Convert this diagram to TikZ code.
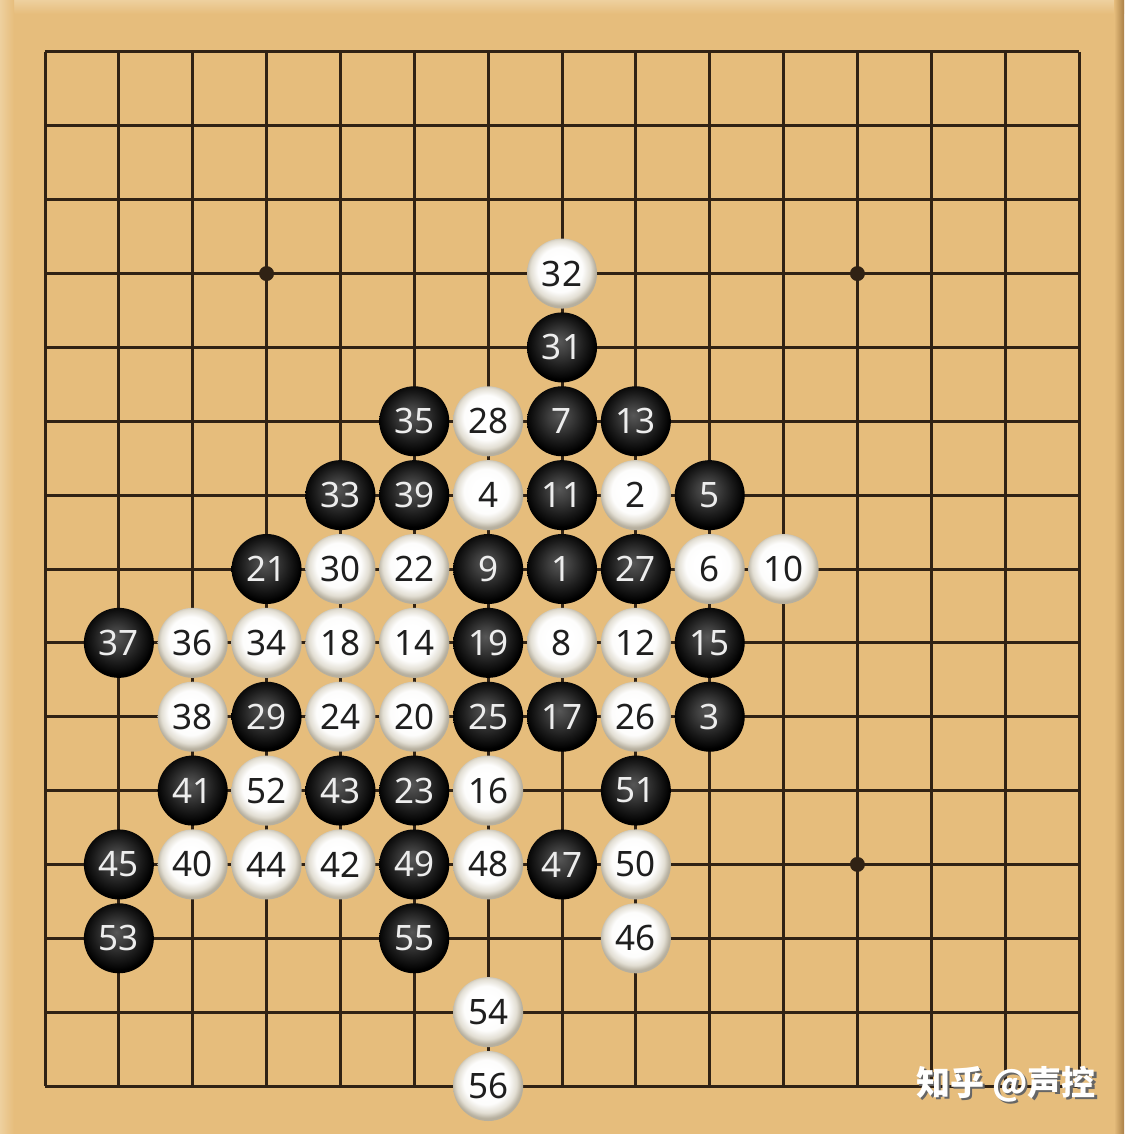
\documentclass[tikz,border=0pt]{standalone}
\usepackage{fontspec}
\newfontfamily\numfont{Noto Sans}
\newfontfamily\cjk{Noto Sans CJK SC}
\definecolor{wood}{RGB}{230,189,124}
\definecolor{woodlight}{RGB}{238,208,158}
\definecolor{wooddark}{RGB}{170,128,72}
\definecolor{gridc}{RGB}{48,34,20}
\definecolor{wrim}{RGB}{182,175,158}
\definecolor{wmid}{RGB}{226,222,211}
\pgfdeclareradialshading{blackstone}{\pgfpoint{-2bp}{4.5bp}}{%
  color(0bp)=(black!66!white); color(8bp)=(black!76!white); color(17bp)=(black!89!white); color(23bp)=(black!97!white); color(25bp)=(black); color(50bp)=(black)}
\pgfdeclareradialshading{whitestone}{\pgfpoint{-2bp}{4bp}}{%
  color(0bp)=(white); color(9bp)=(white); color(16bp)=(white!92!wmid); color(21.5bp)=(wmid); color(25bp)=(wrim); color(50bp)=(wrim)}
\tikzset{
  gridline/.style={draw=gridc, line width=3pt},
  starpt/.style={circle, fill=gridc, inner sep=0pt, minimum size=15pt},
  bstone/.style={circle, inner sep=0pt, minimum size=70pt, shading=blackstone, text=white!93!black, font=\numfont\fontsize{35}{35}\selectfont},
  wstone/.style={circle, inner sep=0pt, minimum size=70pt, shading=whitestone, text=black!88, font=\numfont\fontsize{35}{35}\selectfont}
}
\begin{document}
\begin{tikzpicture}[x=1pt, y=-1pt]
\useasboundingbox (0,0) rectangle (1124,1134);
\fill[wood] (0,0) rectangle (1124,1134);
\shade[top color=woodlight, bottom color=wood] (0,0) rectangle (1124,14);
\shade[left color=woodlight, right color=wood] (0,0) rectangle (14,1134);
\shade[left color=wood, right color=wooddark] (1114,0) rectangle (1124,1134);
\begin{scope}[shift={(45,52)}, x=73.857pt, y=-73.857pt]
  \foreach \i in {0,...,14} {
    \draw[gridline] (\i,0) -- (\i,14);
    \draw[gridline] (0,\i) -- (14,\i);
  }
  \foreach \c/\r [count=\k] in {3/3, 11/3, 3/11, 11/11, 7/7}
    \node[starpt] (star\k) at (\c,\r) {};
  \foreach \c/\r/\n in {7/7/1, 9/9/3, 9/6/5, 7/5/7, 6/7/9, 7/6/11, 8/5/13, 9/8/15, 7/9/17, 6/8/19,
      3/7/21, 5/10/23, 6/9/25, 8/7/27, 3/9/29, 7/4/31, 4/6/33, 5/5/35, 1/8/37, 5/6/39,
      2/10/41, 4/10/43, 1/11/45, 7/11/47, 5/11/49, 8/10/51, 1/12/53, 5/12/55}
    \node[bstone] (s\n) at (\c,\r) {\n};
  \foreach \c/\r/\n in {8/6/2, 6/6/4, 9/7/6, 7/8/8, 10/7/10, 8/8/12, 5/8/14, 6/10/16, 4/8/18, 5/9/20,
      5/7/22, 4/9/24, 8/9/26, 6/5/28, 4/7/30, 7/3/32, 3/8/34, 2/8/36, 2/9/38, 2/11/40,
      4/11/42, 3/11/44, 8/12/46, 6/11/48, 8/11/50, 3/10/52, 6/13/54, 6/14/56}
    \node[wstone] (s\n) at (\c,\r) {\n};
\end{scope}
\node[text=white, font=\cjk\bfseries\fontsize{34}{34}\selectfont] (wm) at (1006,1085)
  {\makebox[0pt][l]{\hspace{2.5pt}\raisebox{-2.5pt}{\color{black!60}知乎 @声控}}知乎 @声控};
\end{tikzpicture}
\end{document}
